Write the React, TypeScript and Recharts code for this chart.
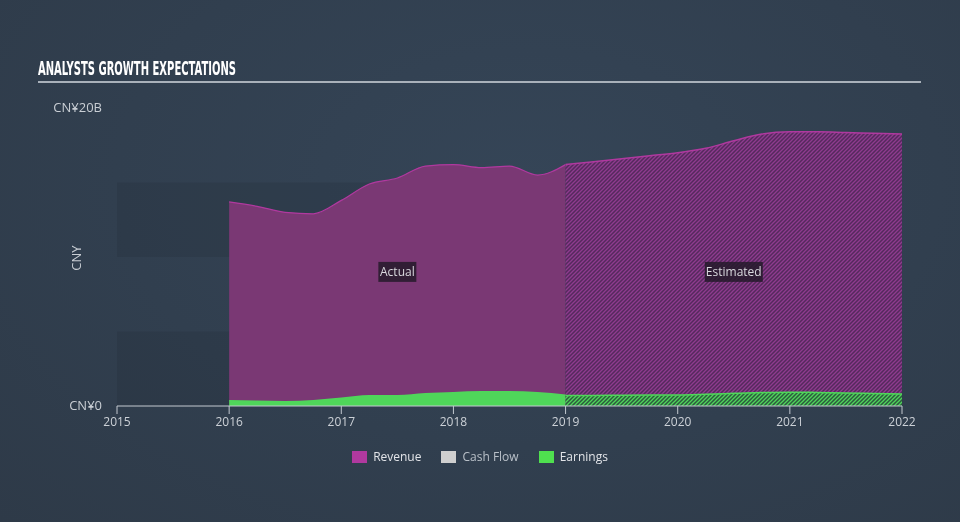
import { ComposedChart, Area, XAxis, YAxis, ReferenceArea } from 'recharts';

const years = [2015, 2016, 2017, 2018, 2019, 2020, 2021, 2022];
const quarters = [
  2016, 2016.25, 2016.5, 2016.75, 2017, 2017.25, 2017.5, 2017.75, 2018, 2018.25, 2018.5, 2018.75,
  2019, 2019.25, 2019.5, 2019.75, 2020, 2020.25, 2020.5, 2020.75, 2021, 2021.25, 2021.5, 2021.75, 2022,
];
// CNY billions, null outside the actual / estimated periods
const revenueActual = [13.7, 13.4, 13.0, 12.9, 13.8, 14.9, 15.3, 16.1, 16.2, 16.0, 16.1, 15.5, 16.2,
  null, null, null, null, null, null, null, null, null, null, null, null];
const revenueEstimated = [null, null, null, null, null, null, null, null, null, null, null, null,
  16.2, 16.4, 16.6, 16.8, 17.0, 17.3, 17.8, 18.25, 18.4, 18.4, 18.35, 18.3, 18.25];
const earningsActual = [0.4, 0.37, 0.33, 0.4, 0.57, 0.74, 0.74, 0.87, 0.94, 1.0, 1.0, 0.94, 0.78,
  null, null, null, null, null, null, null, null, null, null, null, null];
const earningsEstimated = [null, null, null, null, null, null, null, null, null, null, null, null,
  0.7, 0.71, 0.72, 0.73, 0.74, 0.79, 0.85, 0.9, 0.92, 0.91, 0.88, 0.84, 0.8];

const legendItems = [
  { name: 'Revenue', color: '#b0399f', text: '#e2e4e8' },
  { name: 'Cash Flow', color: '#cfcfcf', text: '#b9c0c8' },
  { name: 'Earnings', color: '#4fe04f', text: '#e2e4e8' },
];

const data = quarters.map((x, i) => ({
  x,
  revA: revenueActual[i],
  revE: revenueEstimated[i],
  earnA: earningsActual[i],
  earnE: earningsEstimated[i],
}));

const font = "'Open Sans', sans-serif";

const PeriodLabel = ({ viewBox, text, w }: any) => {
  const cx = viewBox.x + viewBox.width / 2;
  const cy = viewBox.y + viewBox.height / 2;
  return (
    <g>
      <rect x={cx - w / 2} y={cy - 10} width={w} height={20} fill="#251a2a" fillOpacity={0.85} />
      <text x={cx} y={cy + 4} textAnchor="middle" fill="#d9d9de" fontSize={12} fontFamily={font}>
        {text}
      </text>
    </g>
  );
};

const YTick = ({ y, payload }: any) => (
  <text x={102} y={y + 4} textAnchor="end" fill="#c9ced4" fontSize={13} fontFamily={font}>
    {payload.value === 0 ? 'CN¥0' : `CN¥${payload.value}B`}
  </text>
);

const App = () => {
  return (
    <div
      style={{
        position: 'fixed',
        left: 0,
        top: 0,
        width: 960,
        height: 522,
        background: 'radial-gradient(ellipse at 55% 35%, #354557 0%, #313f4f 55%, #2e3a48 100%)',
      }}
    >
      <svg width={960} height={100} style={{ position: 'absolute', left: 0, top: 0 }}>
        <text
          x={38}
          y={75}
          fill="#ffffff"
          fontSize={19}
          fontWeight="bold"
          fontFamily="'Liberation Sans Narrow', 'DejaVu Sans Condensed', sans-serif"
          textLength={198}
          lengthAdjust="spacingAndGlyphs"
        >
          ANALYSTS GROWTH EXPECTATIONS
        </text>
        <line x1={38} x2={921} y1={82} y2={82} stroke="#a9b1ba" strokeWidth={2} />
      </svg>
      <svg width={120} height={522} style={{ position: 'absolute', left: 0, top: 0 }}>
        <text
          x={0}
          y={0}
          transform="translate(81 258) rotate(-90)"
          textAnchor="middle"
          fill="#c9ced4"
          fontSize={13}
          fontFamily={font}
        >
          CNY
        </text>
      </svg>
      <div style={{ position: 'absolute', left: 0, top: 0 }}>
        <ComposedChart width={960} height={522} data={data} margin={{ top: 108, right: 58, left: 0, bottom: 86 }}>
          <defs>
            <pattern id="hatchRev" patternUnits="userSpaceOnUse" width={4} height={4}>
              <rect width={4} height={4} fill="#55295d" />
              <path d="M-1,1 l2,-2 M0,4 l4,-4 M3,5 l2,-2" stroke="#8f3b8f" strokeWidth={1.3} />
            </pattern>
            <pattern id="hatchEarn" patternUnits="userSpaceOnUse" width={4} height={4}>
              <rect width={4} height={4} fill="#2c5a3e" />
              <path d="M-1,1 l2,-2 M0,4 l4,-4 M3,5 l2,-2" stroke="#4fd65a" strokeWidth={1.3} />
            </pattern>
          </defs>
          <XAxis
            type="number"
            dataKey="x"
            domain={[2015, 2022]}
            ticks={years}
            allowDataOverflow
            stroke="#c3c9d0"
            tickSize={8}
            tickMargin={3}
            tick={{ fill: '#ccd1d7', fontSize: 12, fontFamily: font }}
            height={30}
          />
          <YAxis
            type="number"
            domain={[0, 20]}
            ticks={[0, 20]}
            width={117}
            axisLine={false}
            tickLine={false}
            tick={<YTick />}
          />
          <ReferenceArea x1={2015} x2={2022} y1={0} y2={5} fill="#1c2631" fillOpacity={0.2} stroke="none" />
          <ReferenceArea x1={2015} x2={2022} y1={10} y2={15} fill="#1c2631" fillOpacity={0.2} stroke="none" />
          <Area
            type="monotone"
            dataKey="revA"
            stroke="#b0399f"
            strokeWidth={1.2}
            fill="#7a3874"
            fillOpacity={1}
            isAnimationActive={false}
          />
          <Area
            type="monotone"
            dataKey="revE"
            stroke="#b0399f"
            strokeWidth={1.5}
            fill="url(#hatchRev)"
            fillOpacity={1}
            isAnimationActive={false}
          />
          <Area
            type="monotone"
            dataKey="earnA"
            stroke="none"
            fill="#4fd65a"
            fillOpacity={1}
            isAnimationActive={false}
          />
          <Area
            type="monotone"
            dataKey="earnE"
            stroke="#4fd65a"
            strokeWidth={1.5}
            fill="url(#hatchEarn)"
            fillOpacity={1}
            isAnimationActive={false}
          />
          <ReferenceArea
            x1={2016}
            x2={2019}
            y1={0}
            y2={18}
            fill="none"
            stroke="none"
            label={(p: any) => <PeriodLabel {...p} text="Actual" w={38} />}
          />
          <ReferenceArea
            x1={2019}
            x2={2022}
            y1={0}
            y2={18}
            fill="none"
            stroke="none"
            label={(p: any) => <PeriodLabel {...p} text="Estimated" w={58} />}
          />
        </ComposedChart>
      </div>
      <div
        style={{
          position: 'absolute',
          top: 448,
          left: 0,
          width: 960,
          display: 'flex',
          justifyContent: 'center',
          gap: 20,
          fontFamily: font,
          fontSize: 12,
        }}
      >
        {legendItems.map((it) => (
          <div key={it.name} style={{ display: 'flex', alignItems: 'center' }}>
            <span style={{ width: 15, height: 12, background: it.color, marginRight: 6, display: 'inline-block' }} />
            <span style={{ color: it.text }}>{it.name}</span>
          </div>
        ))}
      </div>
    </div>
  );
};

export default App;
